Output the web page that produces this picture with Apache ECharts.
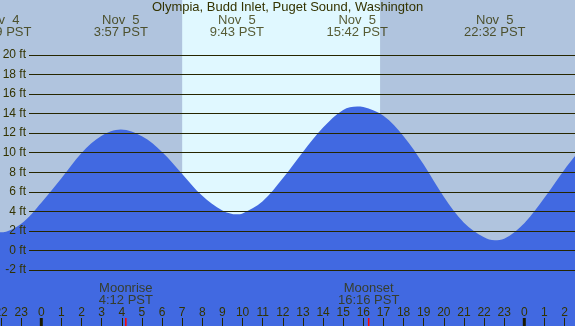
<!DOCTYPE html>
<html>
<head>
<meta charset="utf-8">
<style>
html, body { margin: 0; padding: 0; background: #b0c4de; }
#chart { width: 575px; height: 326px; }
</style>
<script src="https://cdn.jsdelivr.net/npm/echarts@6/dist/echarts.min.js"></script>
</head>
<body>
<div id="chart"></div>
<script>
const stationName = 'Olympia, Budd Inlet, Puget Sound, Washington';

// hours counted from Nov 5 00:00 PST, heights in ft
const tideHours = [-3, -2.02, -1, 0, 1, 2, 3, 3.95, 5, 6, 7, 8, 9, 9.72, 10, 11, 12, 13, 14, 15,
    15.7, 16, 17, 18, 19, 20, 21, 22, 22.53, 23, 24, 25, 26, 27];
const tideFeet = [2.5, 1.87, 2.75, 4.9, 7.4, 10.0, 11.75, 12.4, 11.7, 10.1, 7.85, 5.6, 4.1, 3.7, 3.8, 5.05, 7.4, 10.1, 12.6, 14.4,
    14.75, 14.7, 13.8, 11.7, 8.8, 5.5, 2.85, 1.35, 1.05, 1.2, 2.8, 5.4, 8.3, 10.9];

// high / low tide labels along the top
const extremeDays = ['Nov  4', 'Nov  5', 'Nov  5', 'Nov  5', 'Nov  5'];
const extremeDayOffset = [-1, 0, 0, 0, 0];
const extremeTimes = ['21:59', '3:57', '9:43', '15:42', '22:32'];

const moonNames = ['Moonrise', 'Moonset'];
const moonTimes = ['4:12', '16:16'];

const sunTimes = ['7:00', '16:50'];
const midnights = [0, 24];

const feetMin = -2;
const feetMax = 20;
const feetStep = 2;

const hourMin = -3;
const hourMax = 27;

const ink = '#333300';
const rule = '#262600';
const font = 'Liberation Sans';

function toHour(t, dayOffset) {
    const [h, m] = t.split(':').map(Number);
    return (dayOffset || 0) * 24 + h + m / 60;
}

const extremeHours = extremeTimes.map((t, i) => toHour(t, extremeDayOffset[i]));
const moonHours = moonTimes.map(t => toHour(t));
const sunHours = sunTimes.map(t => toHour(t));

// px per hour is 20.125, hour 0 sits at x=41.3
const stripLeft = -19.075;
const stripRight = -9.675;

const chart = echarts.init(document.getElementById('chart'));

const hiddenX = (grid) => ({ type: 'value', gridIndex: grid, min: hourMin, max: hourMax, show: false });
const hiddenY = (grid, lo, hi) => ({ type: 'value', gridIndex: grid, min: lo, max: hi, show: false });
const strip = (top, height) => ({ left: stripLeft, right: stripRight, top, height, outerBoundsMode: 'none', containLabel: false });

chart.setOption({
    backgroundColor: '#b0c4de',
    animation: false,
    title: {
        text: stationName,
        left: 'center',
        top: 0,
        padding: 0,
        textStyle: { fontFamily: font, fontSize: 13, fontWeight: 'normal', color: ink, lineHeight: 14 }
    },
    grid: [
        strip(0, 326),
        { left: 29, right: 0, top: 55, height: 215, outerBoundsMode: 'none', containLabel: false },
        strip(13, 26),
        strip(282, 24),
        strip(318, 8),
        strip(318, 8)
    ],
    xAxis: [
        {
            type: 'value', gridIndex: 0, min: hourMin, max: hourMax, interval: 1, z: 10,
            axisLine: { show: false, onZero: false },
            splitLine: { show: false },
            axisTick: { show: true, inside: true, length: 8, lineStyle: { color: rule } },
            axisLabel: {
                inside: true, margin: 7, color: ink, fontFamily: font, fontSize: 12,
                formatter: v => String(((v % 24) + 24) % 24)
            }
        },
        { type: 'value', gridIndex: 1, min: 0, max: 1, show: false },
        hiddenX(2),
        hiddenX(3),
        hiddenX(4),
        hiddenX(5)
    ],
    yAxis: [
        hiddenY(0, -7.74, 25.67),
        {
            type: 'value', gridIndex: 1, min: feetMin, max: feetMax, interval: feetStep, z: 10,
            axisLine: { show: false },
            axisTick: { show: false },
            splitLine: { show: true, lineStyle: { color: rule, width: 1 } },
            axisLabel: { margin: 3, color: ink, fontFamily: font, fontSize: 12, formatter: '{value} ft' }
        },
        hiddenY(2, 0, 1),
        hiddenY(3, 0, 1),
        hiddenY(4, 0, 1),
        hiddenY(5, 0, 1)
    ],
    series: [
        {
            // daylight band
            type: 'line', xAxisIndex: 0, yAxisIndex: 0, data: [], z: 1, silent: true,
            markArea: {
                silent: true,
                itemStyle: { color: '#e0f8ff' },
                data: [[{ xAxis: sunHours[0] }, { xAxis: sunHours[1] }]]
            }
        },
        {
            type: 'line', xAxisIndex: 0, yAxisIndex: 0, z: 2,
            data: tideHours.map((h, i) => [h, tideFeet[i]]),
            smooth: 0.35,
            symbol: 'none',
            lineStyle: { width: 0 },
            areaStyle: { color: '#4169e1', opacity: 1, origin: 'start' }
        },
        {
            type: 'scatter', xAxisIndex: 2, yAxisIndex: 2, symbolSize: 1,
            itemStyle: { color: 'transparent' },
            data: extremeHours.map(h => [h, 0.5]),
            label: {
                show: true, position: 'inside', color: ink, fontFamily: font, fontSize: 13, lineHeight: 12,
                formatter: p => extremeDays[p.dataIndex] + '\n' + extremeTimes[p.dataIndex] + ' PST'
            }
        },
        {
            type: 'scatter', xAxisIndex: 3, yAxisIndex: 3, symbolSize: 1, z: 11,
            itemStyle: { color: 'transparent' },
            data: moonHours.map(h => [h, 0.5]),
            label: {
                show: true, position: 'inside', color: ink, fontFamily: font, fontSize: 13, lineHeight: 12,
                formatter: p => moonNames[p.dataIndex] + '\n' + moonTimes[p.dataIndex] + ' PST'
            }
        },
        {
            type: 'bar', xAxisIndex: 4, yAxisIndex: 4, barWidth: 3, z: 11,
            itemStyle: { color: '#1a1a00' },
            data: midnights.map(h => [h, 1])
        },
        {
            type: 'bar', xAxisIndex: 5, yAxisIndex: 5, barWidth: 1.5, z: 11,
            itemStyle: { color: '#ff0000' },
            data: moonHours.map(h => [h, 1])
        }
    ]
});

window.addEventListener('resize', () => chart.resize());
</script>
</body>
</html>
